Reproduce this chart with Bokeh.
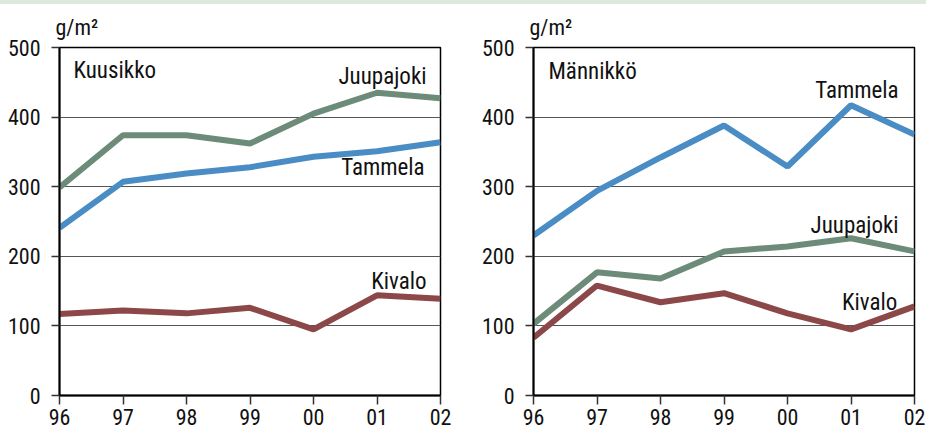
from bokeh.plotting import figure
from bokeh.layouts import row, column
from bokeh.models import Range1d, FixedTicker, Label, Div, Title
from bokeh.embed import file_html
from bokeh.resources import INLINE

years = ["96", "97", "98", "99", "00", "01", "02"]
yticks = [0, 100, 200, 300, 400, 500]

# Kuusikko (spruce)
kuusikko_juupajoki = [299, 374, 374, 362, 405, 435, 427]
kuusikko_tammela = [241, 307, 319, 328, 343, 351, 364]
kuusikko_kivalo = [117, 122, 118, 126, 95, 144, 139]

# Männikkö (pine)
mannikko_tammela = [230, 294, 342, 388, 329, 417, 375]
mannikko_juupajoki = [103, 177, 168, 207, 214, 226, 207]
mannikko_kivalo = [83, 158, 134, 147, 118, 95, 128]

C_JUU = "#6c8b79"
C_TAM = "#4a8dc5"
C_KIV = "#8c4848"
FONT = "Arial Narrow, Liberation Sans Narrow, Roboto Condensed, DejaVu Sans Condensed, Liberation Sans, sans-serif"
TXT = "#111111"


def make_panel(title, series, labels, title_pos, left_border, right_border):
    p = figure(width=left_border + 381 + right_border, height=430,
               min_border_left=left_border, min_border_right=right_border,
               min_border_top=43, min_border_bottom=39,
               x_range=Range1d(0, 6), y_range=Range1d(0, 500),
               output_backend="svg", toolbar_location=None, tools="")
    p.background_fill_color = "white"
    p.border_fill_color = "white"
    p.outline_line_color = "black"
    p.outline_line_width = 1.5
    p.xgrid.visible = False
    p.ygrid.ticker = FixedTicker(ticks=yticks)
    p.ygrid.grid_line_color = "#555555"
    p.ygrid.grid_line_width = 1

    xs = list(range(len(years)))
    p.xaxis.ticker = FixedTicker(ticks=xs)
    p.xaxis.major_label_overrides = {i: y for i, y in enumerate(years)}
    p.yaxis.ticker = FixedTicker(ticks=yticks)
    for ax in (p.xaxis[0], p.yaxis[0]):
        ax.axis_line_color = "black"
        ax.axis_line_width = 2
        ax.major_tick_line_color = "#333333"
        ax.major_tick_line_width = 1.5
        ax.major_tick_in = 0
        ax.minor_tick_line_color = None
        ax.major_label_text_font = FONT
        ax.major_label_text_font_size = "22px"
        ax.major_label_text_color = TXT
    p.yaxis.major_tick_out = 8
    p.xaxis.major_tick_out = 9
    p.yaxis.major_label_standoff = 11
    p.xaxis.major_label_standoff = 4

    for vals, color in series:
        p.line(xs, vals, line_color=color, line_width=6)

    p.add_layout(Label(x=title_pos[0], y=title_pos[1], text=title, text_font=FONT,
                       text_font_size="23px", text_baseline="alphabetic", text_color=TXT))
    for (lx, ly, txt) in labels:
        p.add_layout(Label(x=lx, y=ly, text=txt, text_font=FONT, text_font_size="23px",
                           text_align="right", text_baseline="alphabetic", text_color=TXT))
    p.add_layout(Title(text="g/m²", align="left", offset=-4, standoff=15,
                       text_font=FONT, text_font_size="22px", text_font_style="normal",
                       text_color=TXT), "above")
    return p


p1 = make_panel("Kuusikko",
                [(kuusikko_tammela, C_TAM), (kuusikko_juupajoki, C_JUU), (kuusikko_kivalo, C_KIV)],
                [(5.78, 459, "Juupajoki"), (5.75, 327, "Tammela"), (5.78, 164, "Kivalo")],
                (0.22, 467), 59, 23)
p2 = make_panel("Männikkö",
                [(mannikko_tammela, C_TAM), (mannikko_juupajoki, C_JUU), (mannikko_kivalo, C_KIV)],
                [(5.75, 438, "Tammela"), (5.75, 244, "Juupajoki"), (5.73, 134, "Kivalo")],
                (0.236, 466), 70, 11)

band = Div(text="", width=926, height=4, margin=(0, 0, 0, 0),
           styles={"background-color": "#dce9dc"})
layout = column(band, row(p1, p2), spacing=0)
open("out.html", "w").write(file_html(layout, INLINE))
